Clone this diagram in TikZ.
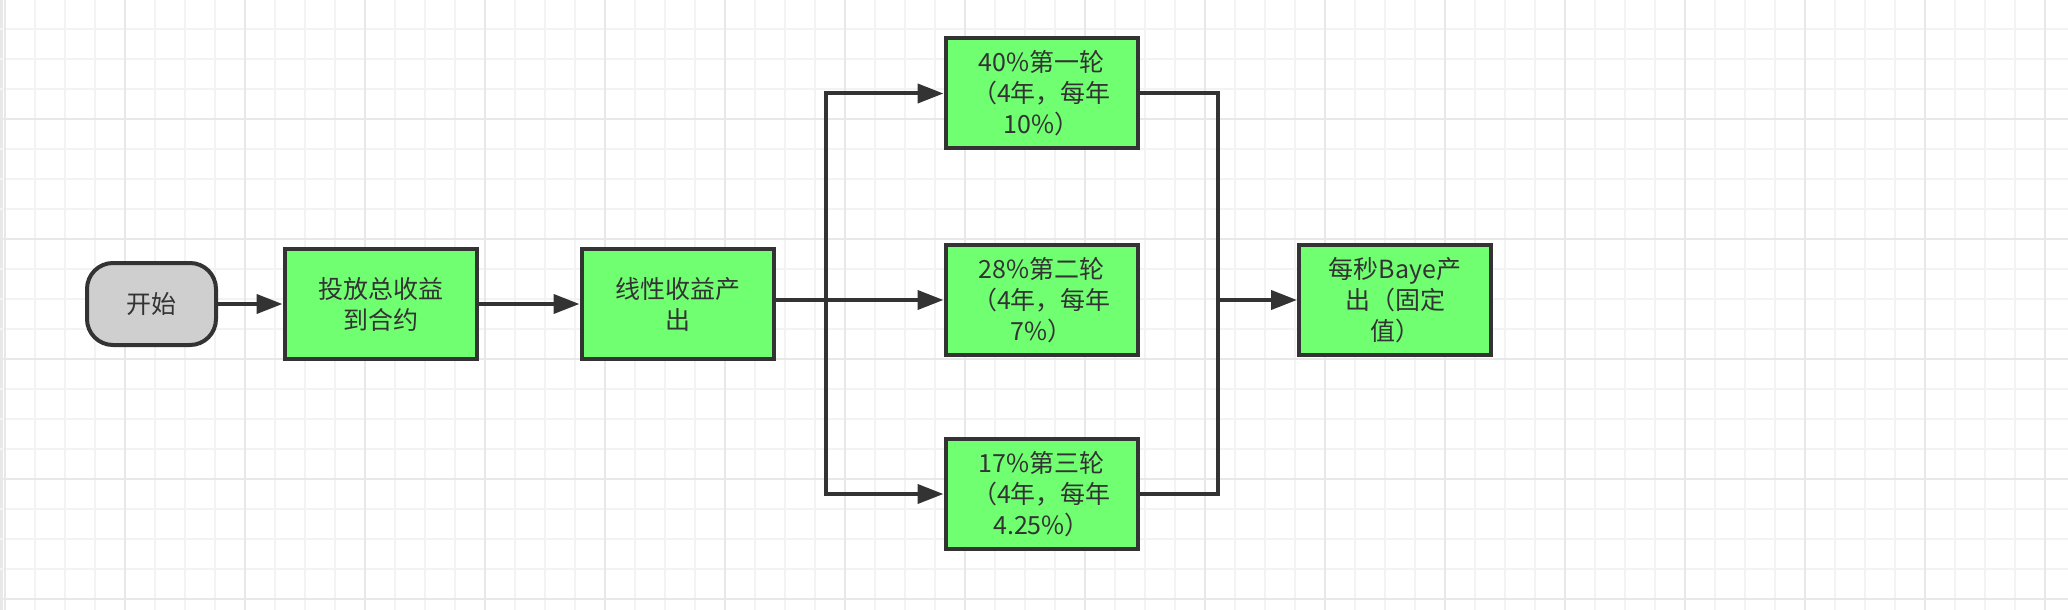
\documentclass[tikz,border=0pt]{standalone}
\usepackage{fontspec}
\newfontfamily\cjk{Noto Sans CJK SC}
\usetikzlibrary{arrows.meta,positioning,calc}

\definecolor{boxgreen}{HTML}{70FF70}
\definecolor{startgray}{HTML}{CFCFCF}
\definecolor{edgegray}{HTML}{333333}
\definecolor{gridminor}{HTML}{F3F3F3}
\definecolor{gridmajor}{HTML}{E8E8E8}

\tikzset{
  greenbox/.style={draw=edgegray, line width=2pt, fill=boxgreen, text=edgegray,
    minimum width=96pt, minimum height=55pt, align=center, inner sep=2pt,
    font=\cjk\fontsize{12.5}{15.5}\selectfont},
  startbox/.style={greenbox, fill=startgray, rounded corners=13pt,
    minimum width=64.5pt, minimum height=41pt},
  link/.style={draw=edgegray, line width=2pt},
  flow/.style={link, -{Triangle[length=13pt,width=9.5pt]}},
}

\begin{document}
\begin{tikzpicture}[x=0.5pt,y=-0.5pt]
            \useasboundingbox (0,0) rectangle (2068,610);
            \fill[white] (0,0) rectangle (2068,610);
            \fill[gridmajor] (0,0) rectangle (3,610);
            \foreach \gx in {35,65,...,2045}
                \draw[gridminor, line width=1pt] (\gx,0) -- (\gx,610);
            \foreach \gy in {29,59,...,599}
                \draw[gridminor, line width=1pt] (0,\gy) -- (2068,\gy);
            \foreach \gx in {5,125,...,2045}
                \draw[gridmajor, line width=1.2pt] (\gx,0) -- (\gx,610);
            \foreach \gy in {119,239,...,599}
                \draw[gridmajor, line width=1.2pt] (0,\gy) -- (2068,\gy);

            \node[startbox] (start) at (151.5,304) {开始};
            \node[greenbox] (put) at (380.5,304) {投放总收益\\到合约};
            \node[greenbox] (lin) at (677.5,304) {线性收益产\\出};
            \node[greenbox] (round1) at (1041.5,93.5) {40\%第一轮\\（4年，每年\\10\%）};
            \node[greenbox] (round2) at (1041.5,300) {28\%第二轮\\（4年，每年\\7\%）};
            \node[greenbox] (round3) at (1041.5,494) {17\%第三轮\\（4年，每年\\4.25\%）};
            \node[greenbox] (out) at (1395,300) {每秒Baye产\\出（固定\\值）};

            \coordinate (split) at (826,300);
            \coordinate (merge) at (1218,300);

            \draw[flow] (start) -- (put);
            \draw[flow] (put) -- (lin);
            \draw[flow] (lin.east |- round2.west) -- (round2.west);
            \draw[link, line cap=rect] (split |- round1.west) -- (split |- round3.west);
            \draw[flow] (split |- round1.west) -- (round1.west);
            \draw[flow] (split |- round3.west) -- (round3.west);
            \draw[link] (round1.east) -| (merge) |- (round3.east);
            \draw[flow] (merge) -- (out.west);
        \end{tikzpicture}
\end{document}
